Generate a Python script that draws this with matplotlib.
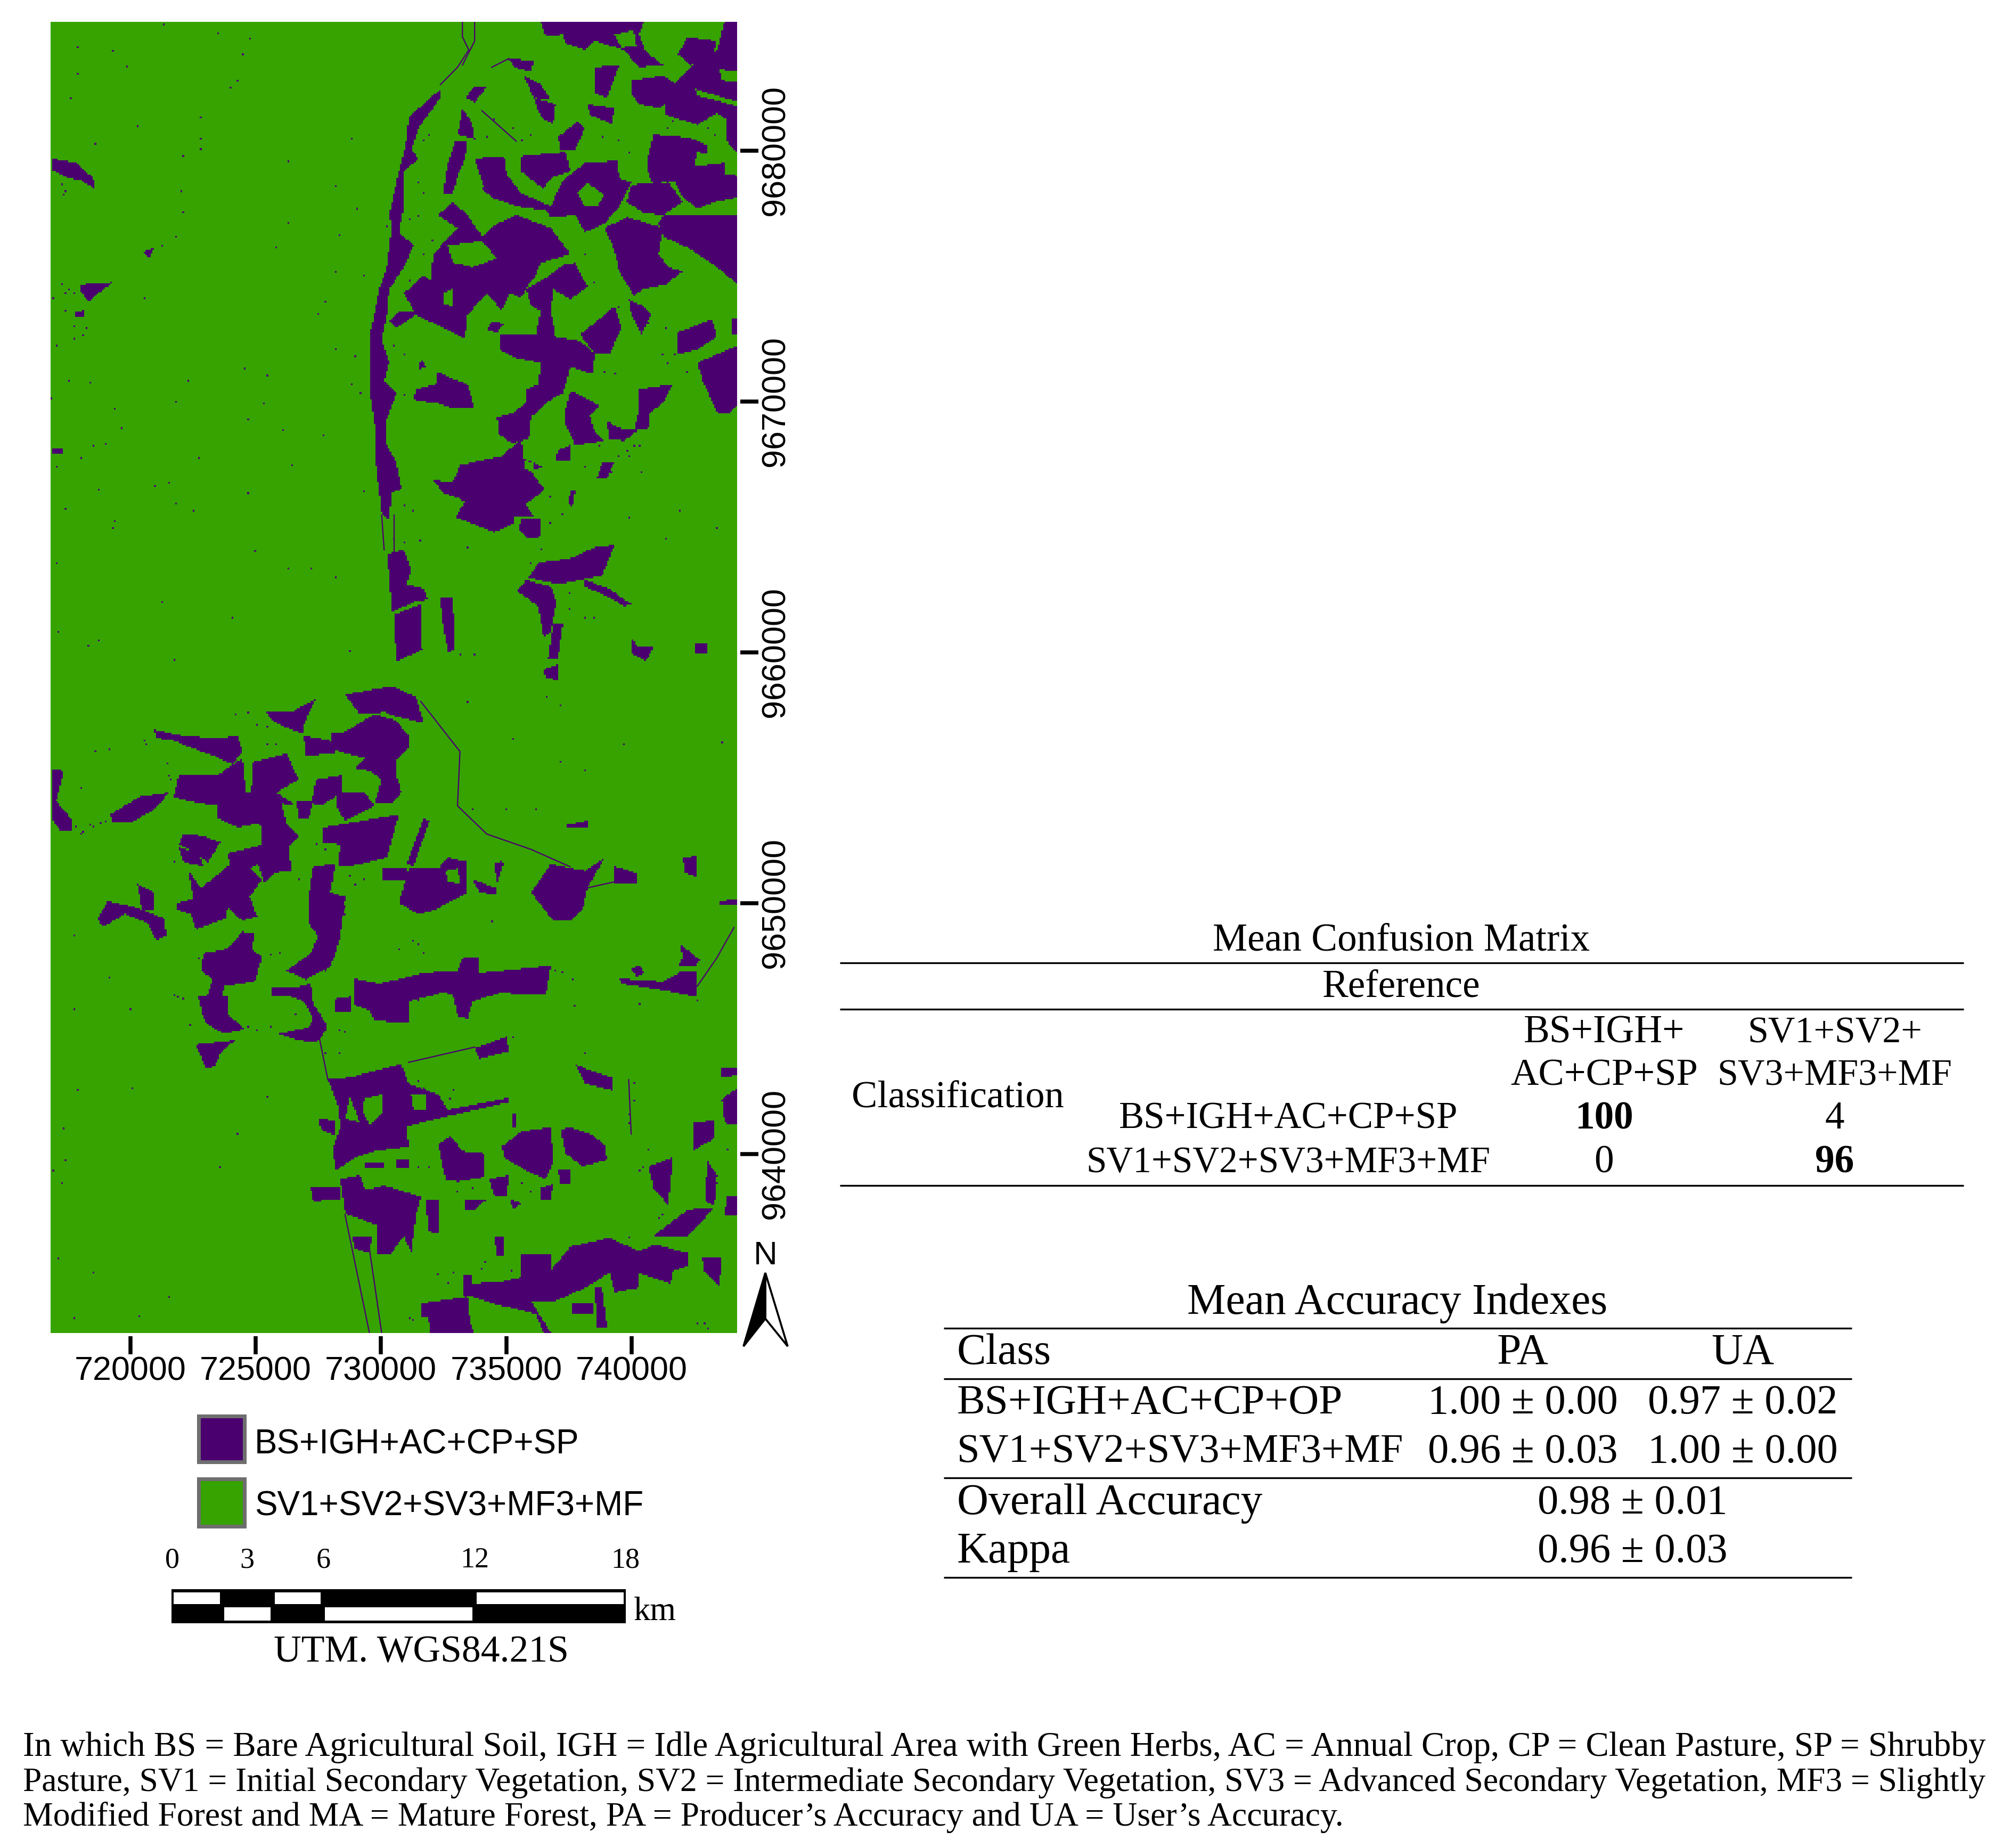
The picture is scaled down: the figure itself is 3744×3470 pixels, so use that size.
#!/usr/bin/env python3
import numpy as np
from matplotlib.pyplot import figure
from matplotlib.colors import ListedColormap
from matplotlib.path import Path
from matplotlib.patches import Rectangle, Polygon

PURPLE = '#4b0070'
GREEN = '#36a300'
SANS = 'Liberation Sans'
SERIF = 'Liberation Serif'
W, H = 3744, 3470

# map frame and graticule, UTM metres
xlim = (716822, 744206)
ylim = (9632866, 9685138)
xticks = [720000, 725000, 730000, 735000, 740000]
yticks = [9640000, 9650000, 9660000, 9670000, 9680000]
scale_breaks = [0, 2, 4, 6, 12, 18]
scale_labels = [0, 3, 6, 12, 18]
classes = ['BS+IGH+AC+CP+SP', 'SV1+SV2+SV3+MF3+MF']

# patches: 51.25 units per km east, 57.7 units per km south
# north sheet: unit (201,322) is E720000 N9680000
north_patches = [
    [(1040,27),(1250,27),(1240,55),(1255,95),(1290,125),(1240,130),(1210,90),(1150,70),(1130,90),(1090,75),(1085,55),(1050,60)],
    [(1415,27),(1442,27),(1442,270),(1400,235),(1360,262),(1295,240),(1290,195),(1330,150),(1345,130),(1400,90)],
    [(1225,160),(1290,150),(1325,175),(1285,225),(1240,215),(1225,190)],
    [(1150,130),(1200,125),(1175,200),(1150,190)],
    [(1135,215),(1190,225),(1185,260),(1140,240)],
    [(1270,285),(1345,292),(1380,310),(1380,330),(1358,325),(1355,358),(1415,350),(1415,375),(1442,380),(1442,430),(1395,440),(1360,455),(1330,430),(1315,395),(1285,395),(1280,420),(1260,380),(1258,340)],
    [(1290,470),(1442,470),(1442,630),(1400,590),(1340,545),(1290,520),(1280,490)],
    [(1170,500),(1215,475),(1290,500),(1280,560),(1300,590),(1330,600),(1295,630),(1250,640),(1230,655),(1200,600),(1190,550)],
    [(940,385),(1000,420),(1060,450),(1085,390),(1130,350),(1195,345),(1200,385),(1225,395),(1200,450),(1170,490),(1130,510),(1110,470),(1060,475),(1050,460),(990,450),(940,430),(920,410)],
    [(1000,335),(1090,325),(1100,370),(1060,385),(1045,410),(1000,370)],
    [(1075,290),(1115,255),(1130,270),(1110,320),(1080,320)],
    [(975,110),(1025,115),(1020,140),(985,130)],
    [(1025,200),(1070,215),(1065,260),(1040,245)],
    [(835,180),(770,245),(765,300),(750,370),(730,470),(735,500),(725,590),(710,640),(690,750),(690,870),(700,950),(703,1040),(715,1160),(730,1170),(735,1110),(755,1100),(745,1040),(725,1000),(725,940),(745,880),(720,850),(730,810),(715,760),(725,700),(730,640),(760,590),(780,540),(750,510),(760,450),(760,370),(790,340),(775,320),(790,270),(835,200)],
    [(865,300),(890,300),(885,340),(870,380),(860,420),(840,420),(850,350)],
    [(880,225),(900,260),(905,295),(870,285)],
    [(905,175),(930,175),(905,210),(885,200)],
    [(820,560),(870,500),(830,470),(860,440),(890,470),(920,520),(950,490),(990,470),(1060,500),(1100,560),(1040,580),(1025,620),(985,630),(960,690),(930,650),(890,700),(885,755),(840,730),(785,700),(745,730),(730,715),(750,690),(780,690),(760,650),(800,610),(815,620)],
    [(1010,640),(1050,615),(1085,585),(1110,580),(1135,635),(1100,665),(1065,640),(1060,690),(1070,750),(1120,760),(1150,790),(1145,835),(1100,820),(1085,880),(1060,895),(1020,935),(1015,985),(980,995),(955,975),(950,935),(985,925),(1010,900),(1010,870),(1035,860),(1040,810),(990,800),(955,780),(958,745),(1030,745),(1040,690),(1020,680)],
    [(1120,745),(1165,705),(1190,680),(1205,730),(1180,790),(1150,790)],
    [(940,715),(965,720),(950,740),(930,735)],
    [(785,870),(825,860),(830,830),(855,845),(890,860),(905,915),(860,915),(835,905),(780,895)],
    [(795,800),(805,820),(790,825)],
    [(1100,875),(1130,890),(1160,910),(1140,930),(1150,970),(1170,990),(1110,1000),(1090,950),(1090,920)],
    [(1240,870),(1310,860),(1290,900),(1260,930),(1260,960),(1230,965),(1240,920)],
    [(1175,945),(1200,960),(1240,965),(1210,990),(1180,985)],
    [(1320,740),(1390,710),(1400,750),(1360,780),(1320,790)],
    [(1360,810),(1442,770),(1442,905),(1425,925),(1400,925),(1370,850)],
    [(1430,710),(1442,710),(1442,745),(1432,745)],
    [(1075,1010),(1100,1000),(1100,1035),(1070,1035)],
    [(875,1045),(960,1025),(1000,985),(1005,1030),(1045,1050),(1020,1060),(1040,1090),(1050,1100),(1010,1135),(1025,1165),(985,1165),(985,1180),(945,1200),(865,1165),(885,1130),(870,1120),(840,1110),(820,1080),(860,1085)],
    [(1000,1170),(1040,1170),(1040,1210),(1015,1215),(995,1195)],
    [(1100,1105),(1110,1105),(1105,1140),(1095,1135)],
    [(1035,1270),(1100,1260),(1150,1235),(1190,1230),(1165,1300),(1120,1310),(1075,1320),(1015,1305)],
    [(1010,1310),(1060,1325),(1072,1360),(1060,1430),(1045,1440),(1035,1370),(990,1335)],
    [(1065,1410),(1085,1410),(1075,1490),(1055,1490)],
    [(1045,1515),(1075,1505),(1075,1540),(1050,1535)],
    [(1130,1310),(1180,1330),(1210,1355),(1225,1365),(1210,1370),(1180,1350),(1130,1325)],
    [(1225,1445),(1240,1465),(1270,1465),(1255,1495),(1225,1480)],
    [(1355,1457),(1380,1457),(1380,1478),(1355,1478)],
    [(740,1390),(795,1365),(795,1465),(800,1470),(745,1497)],
    [(725,1250),(760,1240),(775,1290),(765,1320),(800,1330),(810,1355),(780,1360),(735,1385),(730,1300)],
    [(835,1352),(860,1352),(865,1470),(850,1475),(838,1400)],
    [(40,340),(90,350),(125,385),(130,410),(100,390),(75,385),(40,365)],
    [(100,630),(165,625),(135,650),(115,670),(100,645)],
    [(90,690),(108,690),(108,705),(90,705)],
    [(40,1005),(62,1005),(62,1020),(40,1020)],
    [(225,555),(250,545),(240,570)],
    # second pass
    [(905,340),(965,335),(970,375),(1000,420),(925,410)],
    [(1225,400),(1300,395),(1330,440),(1290,470),(1250,465),(1215,440)],
    [(1220,665),(1250,680),(1265,700),(1245,745),(1225,700)],
    [(1005,150),(1040,170),(1060,205),(1025,200)],
    [(1340,60),(1400,70),(1390,110),(1345,125),(1320,100)],
    [(990,600),(1020,620),(1000,660),(975,650)],
    [(1420,240),(1442,270),(1442,330),(1420,300)],
    [(1165,1040),(1190,1040),(1175,1075),(1155,1075)],
]
north_holes = [
    [(1190,55),(1230,45),(1235,80),(1205,85)],
    [(1405,135),(1442,140),(1442,165),(1410,160)],
    [(1115,420),(1135,395),(1170,425),(1155,450),(1130,450)],
    [(840,650),(860,640),(860,680),(840,675)],
    [(850,540),(920,530),(950,570),(900,590),(860,580)],
    [(1005,1035),(1025,1040),(1025,1060),(1005,1055)],
    [(1355,180),(1442,210),(1442,220),(1360,195)],
]
north_lines = [
    [(880,27),(880,60),(893,90),(870,130),(835,170)],
    [(905,27),(905,70),(880,125)],
    [(940,130),(975,110)],
    [(920,230),(990,300)],
    [(715,1160),(720,1240)],
    [(740,1160),(740,1250)],
]
north_specks = [
    (270,30),(380,50),(445,65),(95,85),(165,92),(430,100),(195,127),(95,145),(420,160),(405,175),(80,200),(345,245),
    (215,265),(130,305),(345,295),(655,295),(310,335),(345,320),(525,345),(620,405),(305,415),(665,455),(310,465),(525,490),
    (630,515),(725,495),(295,520),(500,545),(620,600),(680,610),(230,660),(600,670),(50,770),(585,700),(620,780),(660,795),
    (435,825),(480,840),(320,850),(75,850),(120,855),(655,860),(670,880),(40,890),(295,900),(475,905),(170,915),(440,940),
    (185,960),(515,965),(595,975),(150,995),(125,1000),(100,1030),(530,1045),(340,1030),(50,1050),(280,1085),(250,1095),
    (135,1100),(440,1108),(680,1105),(295,1135),(330,1150),(70,1145),(170,1175),(165,1190),(455,1245),(525,1285),(570,1285),
    (50,1270),(265,1360),(410,1395),(135,1450),(55,1430),(650,1475),(290,1495),(115,1460),(620,1305),(1325,1150),(1220,1165),
    (1400,1190),(1295,1215),(1165,1045),(1245,1060),(1160,1075),(1220,1025),(890,1235),(60,630),(75,640),(45,660),(70,690),
    (85,755),(105,745),(110,730),(240,560),(265,540),(1170,830),(1190,835),(1300,810),(1130,560),(1150,625),(1240,1000),
    # fringe along the clearings
    (800,300),(810,285),(790,395),(800,420),(770,480),(790,470),(800,560),(820,530),(740,625),(770,620),(720,690),(710,700),
    (740,770),(760,790),(730,870),(760,885),(1000,300),(1020,285),(985,270),(1200,300),(1220,325),(1165,290),(930,290),
    (945,250),(1310,255),(1300,270),(1380,270),(1395,285),(1420,300),(1200,680),(1240,700),(1260,720),(1295,730),(1185,1060),
    (1200,1025),(1230,1000),(1215,1015),(1160,1000),(1130,1050),(1060,1120),(1085,1160),(1060,1180),(1040,1240),(1020,1270),
    (1100,1375),(1130,1395),(1150,1395),(1100,1340),(760,1140),(780,1150),(795,1220),(740,1215),(760,1225),(905,1480),(875,1480),
    (60,400),(70,415),(65,425),(100,640),(85,650),(70,650),(120,640),(105,690),(85,725),(1315,790),(1290,790),(1340,830),
]

# south sheet: unit (201,534) is E720000 N9650000
south_patches = [
    [(640,55),(735,35),(785,60),(800,120),(745,105),(720,95),(670,100)],
    [(640,140),(700,100),(745,115),(770,150),(770,175),(745,205),(745,240),(755,280),(735,305),(700,305),(715,250),(690,230),(660,225),(680,200),(640,190),(615,180),(610,145)],
    [(555,150),(610,160),(620,190),(560,195)],
    [(480,95),(530,95),(580,65),(565,100),(555,125),(555,145),(520,130),(490,115)],
    [(250,135),(310,150),(380,155),(420,150),(430,185),(410,215),(370,195),(320,175),(290,160),(255,155)],
    [(450,210),(520,190),(545,250),(500,280),(540,310),(510,305),(520,350),(545,380),(525,405),(530,460),(495,465),(475,490),(460,440),(470,380),(465,340),(440,310),(450,260)],
    [(380,310),(440,280),(500,290),(470,350),(420,360),(380,340)],
    [(310,375),(350,380),(385,395),(360,440),(320,410),(300,400)],
    [(320,460),(345,500),(400,450),(420,430),(470,480),(445,520),(460,565),(430,575),(400,545),(395,570),(335,595),(325,560),(295,550),(295,535),(330,525)],
    [(215,490),(250,510),(250,550),(225,550)],
    [(135,570),(155,530),(215,545),(270,570),(275,610),(255,620),(235,580),(190,560),(145,590)],
    [(160,330),(220,290),(280,280),(250,320),(200,350),(165,350)],
    [(40,225),(65,230),(50,300),(80,340),(80,370),(60,370),(40,340)],
    [(595,360),(650,350),(750,330),(725,430),(650,450),(625,450),(630,400),(595,395)],
    [(580,250),(635,240),(635,280),(590,310),(572,305)],
    [(620,280),(680,280),(700,310),(640,345),(625,320)],
    [(800,340),(812,345),(780,450),(765,445)],
    [(770,455),(830,455),(850,430),(890,440),(890,510),(855,530),(825,550),(790,560),(750,535)],
    [(1045,470),(1060,445),(1130,460),(1170,430),(1135,500),(1125,550),(1100,575),(1065,575),(1020,510)],
    [(1190,450),(1235,465),(1235,488),(1190,490)],
    [(1330,430),(1360,425),(1360,475),(1335,465)],
    [(715,455),(765,455),(765,480),(715,480)],
    [(575,450),(620,445),(610,510),(640,520),(630,610),(620,650),(610,680),(560,710),(520,690),(570,650),(585,610),(565,580),(565,520)],
    [(350,650),(400,640),(430,600),(455,605),(450,640),(470,660),(455,715),(395,725),(385,760),(400,790),(435,825),(390,835),(355,810),(350,770),(370,710),(345,690)],
    [(335,860),(415,850),(385,880),(375,910),(355,915)],
    [(490,730),(530,730),(570,720),(575,765),(600,810),(600,830),(580,855),(545,850),(505,835),(565,820),(575,800),(555,760),(530,750),(490,750)],
    [(660,708),(710,720),(800,695),(870,690),(880,660),(915,660),(915,695),(1050,680),(1060,680),(1050,745),(1000,745),(960,740),(900,760),(890,800),(870,795),(860,745),(840,740),(770,760),(770,810),(700,805),(690,780),(660,770)],
    [(620,755),(650,750),(650,785),(620,785)],
    [(1200,708),(1290,715),(1330,690),(1360,690),(1360,750),(1290,735),(1205,720)],
    [(1325,630),(1365,665),(1355,680),(1320,680),(1330,660)],
    [(1225,685),(1240,678),(1252,695),(1235,705)],
    [(905,868),(970,842),(975,875),(915,892)],
    [(605,940),(650,935),(755,905),(770,950),(830,975),(850,1010),(975,982),(975,992),(850,1025),(765,1048),(770,1095),(700,1105),(660,1120),(620,1150),(615,1100),(630,1050),(625,1000)],
    [(630,1170),(670,1160),(680,1195),(720,1185),(795,1210),(785,1250),(775,1340),(760,1300),(735,1340),(705,1340),(705,1275),(680,1265),(640,1250)],
    [(570,1190),(630,1190),(630,1215),(575,1220)],
    [(805,1215),(830,1215),(830,1295),(810,1290)],
    [(655,1300),(695,1300),(690,1340),(660,1330)],
    [(830,1090),(855,1070),(880,1105),(925,1110),(925,1165),(870,1175),(845,1170)],
    [(960,1095),(1000,1060),(1060,1050),(1065,1130),(1050,1170),(1010,1150),(965,1120)],
    [(1080,1055),(1100,1050),(1140,1065),(1170,1090),(1175,1125),(1125,1140),(1090,1110)],
    [(935,1170),(975,1160),(970,1210),(945,1210)],
    [(885,1215),(930,1215),(905,1240),(885,1240)],
    [(975,1215),(1000,1225),(985,1240)],
    [(1110,905),(1130,915),(1185,935),(1185,965),(1130,950)],
    [(1410,985),(1442,960),(1442,1045),(1415,1040)],
    [(1350,1040),(1395,1035),(1395,1075),(1350,1105)],
    [(1420,1210),(1442,1210),(1442,1255),(1415,1255)],
    [(1260,1140),(1310,1120),(1300,1230),(1270,1190)],
    [(795,1455),(890,1440),(895,1500),(905,1523),(815,1523),(810,1490),(795,1485)],
    [(900,1410),(960,1405),(1060,1380),(1100,1325),(1180,1305),(1240,1335),(1275,1320),(1340,1340),(1340,1370),(1310,1380),(1305,1410),(1240,1385),(1240,1420),(1190,1430),(1180,1385),(1130,1420),(1070,1450),(1020,1450),(1060,1523),(1045,1523),(1030,1480),(940,1455),(900,1440)],
    [(1370,1350),(1410,1350),(1405,1415),(1375,1385)],
    [(1150,1420),(1165,1420),(1175,1510),(1155,1510)],
    [(1105,1455),(1145,1455),(1145,1480),(1105,1480)],
    [(945,1300),(965,1300),(965,1345),(950,1345)],
    [(1090,355),(1135,345),(1135,360),(1095,362)],
    [(585,1030),(620,1035),(620,1070),(590,1055)],
    [(1405,530),(1442,525),(1442,538),(1405,540)],
    # second pass
    [(300,240),(380,240),(430,200),(440,310),(380,310),(320,300),(290,290)],
    [(540,300),(575,300),(565,340),(545,340)],
    [(300,405),(340,420),(350,450),(310,440)],
    [(400,420),(470,400),(470,440),(420,470),(405,450)],
    [(340,750),(400,750),(400,800),(350,800)],
    [(680,1130),(720,1130),(720,1145),(680,1145)],
    [(745,1125),(770,1125),(770,1145),(745,1145)],
    [(1000,1340),(1060,1340),(1060,1400),(1000,1400)],
    [(880,1390),(900,1390),(900,1440),(880,1440)],
    [(1340,1240),(1395,1235),(1340,1300),(1310,1300),(1270,1300)],
    [(1380,1130),(1400,1160),(1395,1230),(1375,1220)],
    [(1410,915),(1442,915),(1442,930),(1410,935)],
    [(1040,1190),(1065,1180),(1060,1215),(1040,1215)],
    [(1075,1150),(1100,1150),(1100,1180),(1080,1180)],
    [(980,1020),(990,1020),(990,1050),(980,1050)],
    [(900,480),(950,500),(950,515),(915,510)],
    [(945,440),(965,440),(950,490)],
]
south_holes = [
    [(845,460),(870,455),(875,490),(850,485)],
    [(680,985),(715,975),(715,1020),(690,1045),(675,1010)],
    [(775,975),(805,975),(805,1010),(780,1010)],
    [(650,980),(670,1040),(640,1030)],
]
south_lines = [
    [(795,70),(875,185),(870,310),(930,375),(1020,410),(1100,450)],
    [(1130,500),(1190,485)],
    [(585,830),(605,940)],
    [(640,1250),(690,1523)],
    [(690,1330),(715,1523)],
    [(1360,725),(1400,660),(1435,590)],
    [(1220,940),(1225,1065)],
    [(640,540),(600,690)],
    [(770,900),(905,865)],
]
south_specks = [
    (100,270),(130,185),(160,180),(85,610),(160,705),(85,780),(200,780),(95,965),(205,960),(480,980),(65,1055),(420,1065),
    (70,1125),(45,1150),(60,1180),(385,1140),(55,1350),(125,1385),(280,1440),(85,1490),(220,1485),(900,320),(970,320),
    (1030,320),(1130,230),(985,155),(1080,210),(1210,170),(1410,165),(940,575),(790,630),(1110,770),(1240,765),(1360,760),
    (985,845),(1130,880),(890,70),(1080,80),(1050,60),(120,355),(100,375),(290,440),(310,755),(340,660),(920,490),(945,500),
    (1260,1100),(1400,1180),(1375,1500),(1380,1515),(1230,950),(1220,1040),(950,450),(960,440),
    # fringe of the clearings
    (140,350),(125,360),(105,370),(150,345),(90,360),(230,160),(235,170),(275,215),(280,240),(285,250),(300,270),(320,240),
    (415,100),(440,95),(460,125),(480,130),(480,170),(500,170),(580,400),(600,410),(545,480),(570,490),(650,470),(660,490),
    (680,480),(640,560),(590,630),(490,655),(505,650),(300,750),(290,745),(325,815),(440,820),(460,825),(490,820),(540,790),
    (630,825),(640,830),(600,880),(630,880),(790,760),(800,650),(750,640),(780,620),(1070,690),(1085,695),(1105,710),
    (870,1200),(900,1190),(1000,1180),(1020,1200),(810,1140),(790,1140),(1240,1150),(1250,1140),(1280,1260),(1290,1250),
    (830,1390),(860,1385),(850,1410),(925,1360),(920,1375),(980,1380),(1220,1305),(1130,1320),(1420,1100),(1380,1130),
    (1230,990),(1220,1020),(860,965),(855,985),(800,960),(790,945),(1360,1500),(770,1490),(780,1495),
]

# table text
cm_title = 'Mean Confusion Matrix'
cm_head = ['BS+IGH+\nAC+CP+SP', 'SV1+SV2+\nSV3+MF3+MF']
cm_values = [[100, 4], [0, 96]]
acc_title = 'Mean Accuracy Indexes'
acc_classes = ['BS+IGH+AC+CP+OP', 'SV1+SV2+SV3+MF3+MF']
acc_pa = ['1.00 \u00b1 0.00', '0.96 \u00b1 0.03']
acc_ua = ['0.97 \u00b1 0.02', '1.00 \u00b1 0.00']
overall = '0.98 \u00b1 0.01'
kappa = '0.96 \u00b1 0.03'
notes = ['In which BS = Bare Agricultural Soil, IGH = Idle Agricultural Area with Green Herbs, AC = Annual Crop, CP = Clean Pasture, SP = Shrubby',
         'Pasture, SV1 = Initial Secondary Vegetation, SV2 = Intermediate Secondary Vegetation, SV3 = Advanced Secondary Vegetation, MF3 = Slightly',
         'Modified Forest and MA = Mature Forest, PA = Producer\u2019s Accuracy and UA = User\u2019s Accuracy.']


def north_utm(pts):
    p = np.asarray(pts, float)
    return np.c_[720000 + (p[:,0]-201)/51.25*1000, 9680000 - (p[:,1]-322)/57.7*1000]


def south_utm(pts):
    p = np.asarray(pts, float)
    return np.c_[720000 + (p[:,0]-201)/51.25*1000, 9650000 - (p[:,1]-534)/57.7*1000]


def burn(grid, xy, polys, conv, val):
    for poly in polys:
        grid[Path(conv(poly)).contains_points(xy).reshape(grid.shape)] = val


#%% classified raster, 70 m cells
east = np.arange(xlim[0]+35, xlim[1], 70)
north = np.arange(ylim[1]-35, ylim[0], -70)
ee, nn = np.meshgrid(east, north)
cells = np.c_[ee.ravel(), nn.ravel()]
raster = np.ones(ee.shape)
burn(raster, cells, north_patches, north_utm, 0)
burn(raster, cells, north_holes, north_utm, 1)
burn(raster, cells, south_patches, south_utm, 0)
burn(raster, cells, south_holes, south_utm, 1)

for pts, conv in ((north_specks, north_utm), (south_specks, south_utm)):
    s = conv(pts)
    i = np.clip(((ylim[1]-s[:,1])/70).astype(int), 0, raster.shape[0]-1)
    j = np.clip(((s[:,0]-xlim[0])/70).astype(int), 0, raster.shape[1]-1)
    raster[i, j] = 0

fg = figure(figsize=(W/300, H/300), dpi=300, facecolor='white')
ax = fg.add_axes([95/W, 1-2503/H, (1384-95)/W, (2503-41)/H])
ax.imshow(raster, cmap=ListedColormap([PURPLE, GREEN]), vmin=0, vmax=1, interpolation='nearest',
          extent=(xlim[0], xlim[1], ylim[0], ylim[1]), aspect='auto')
for lines, conv in ((north_lines, north_utm), (south_lines, south_utm)):
    for l in lines:
        s = conv(l)
        ax.plot(s[:,0], s[:,1], color=PURPLE, lw=0.55)
ax.set_xlim(xlim)
ax.set_ylim(ylim)

# spine offset resets the ticks, so it goes first
for k in ('bottom', 'right'):
    ax.spines[k].set_position(('outward', 1.4))
for k in ax.spines:
    ax.spines[k].set_visible(False)
ax.yaxis.tick_right()
ax.set_xticks(xticks)
ax.set_yticks(yticks)
ax.tick_params(length=8.2, width=1.8, pad=0.5)
ax.set_xticklabels([str(t) for t in xticks], family=SANS, fontsize=15.1)
ax.set_yticklabels([str(t) for t in yticks], family=SANS, fontsize=15.1, rotation=90, va='center')

#%% everything around the map is laid out in picture pixels
pg = fg.add_axes([0, 0, 1, 1], zorder=5)
pg.set_xlim(0, W)
pg.set_ylim(H, 0)
pg.axis('off')
pg.patch.set_alpha(0)


def put(x, y, s, size, ha='center', family=SERIF, **kw):
    pg.text(x, y+5, s, fontsize=size, ha=ha, va='center', family=family, **kw)


# north arrow
put(1437, 2354, 'N', 14.9, family=SANS)
pg.add_patch(Polygon([(1437,2390), (1479,2528), (1437,2476)], fc='white', ec='black', lw=0.9))
pg.add_patch(Polygon([(1437,2390), (1396,2528), (1437,2476)], fc='black', ec='black', lw=0.9))

# legend
for (y0, y1), c, name, yt in zip(((2659,2745), (2777,2866)), (PURPLE, GREEN), classes, (2707,2823)):
    pg.add_patch(Rectangle((373,y0), 86, y1-y0, fc=c, ec='#6e6e6e', lw=1.7))
    put(478, yt, name, 15.3, ha='left', family=SANS)

# scale bar, rows offset by one break
km = 47.4
pg.add_patch(Rectangle((322,2984), km*scale_breaks[-1], 64, fc='black', ec='none'))
for i, (a, b) in enumerate(zip(scale_breaks[:-1], scale_breaks[1:])):
    if i % 2 == 0:
        pg.add_patch(Rectangle((322+a*km+4,2990), (b-a)*km-8, 22, fc='white', ec='none'))
    else:
        pg.add_patch(Rectangle((322+a*km+4,3018), (b-a)*km-8, 25, fc='white', ec='none'))
for k, x in zip(scale_labels, (324,464,607,891,1174)):
    put(x, 2925, str(k), 13)
put(1190, 3022, 'km', 15, ha='left')
put(791, 3098, 'UTM. WGS84.21S', 17.2)

#%% confusion matrix
fs = 17.6
for y in (1808, 1895, 2226):
    pg.plot([1577, 3687], [y, y], color='black', lw=0.8, solid_capstyle='butt')
put(2631, 1762, cm_title, fs)
put(2631, 1849, 'Reference', fs)
put(1599, 2057, 'Classification', 17.4, ha='left')
for x, head in zip((3012, 3445), cm_head):
    a, b = head.split('\n')
    put(x, 1935, a, fs if x == 3012 else 16.8)
    put(x, 2015, b, 17.4 if x == 3012 else 16.8)
for y, name, row, sz in zip((2096, 2179), classes, cm_values, (17.0, 16.6)):
    put(2419, y, name, sz)
    for x, v in zip((3012, 3445), row):
        put(x, y, str(v), fs, fontweight='bold' if v in (100, 96) else 'normal')

#%% accuracy table
fs = 19.6
for y in (2494, 2589, 2775, 2962):
    pg.plot([1772, 3477], [y, y], color='black', lw=0.8, solid_capstyle='butt')
put(2624, 2442, acc_title, fs)
put(1797, 2536, 'Class', fs, ha='left')
put(2859, 2536, 'PA', fs)
put(3272, 2536, 'UA', fs)
for y, name, pa, ua, sz in zip((2630, 2722), acc_classes, acc_pa, acc_ua, (19.0, 18.3)):
    put(1797, y, name, sz, ha='left')
    put(2859, y, pa, 18.8)
    put(3272, y, ua, 18.8)
put(1797, 2818, 'Overall Accuracy', fs, ha='left')
put(1797, 2909, 'Kappa', fs, ha='left')
put(3065, 2818, overall, 18.8)
put(3065, 2909, kappa, 18.8)

#%% footnote
for y, line, sz in zip((3276, 3343, 3408), notes, (15.6, 15.25, 15.3)):
    put(43, y, line, sz, ha='left')

fg.savefig('out.png', dpi=300)
